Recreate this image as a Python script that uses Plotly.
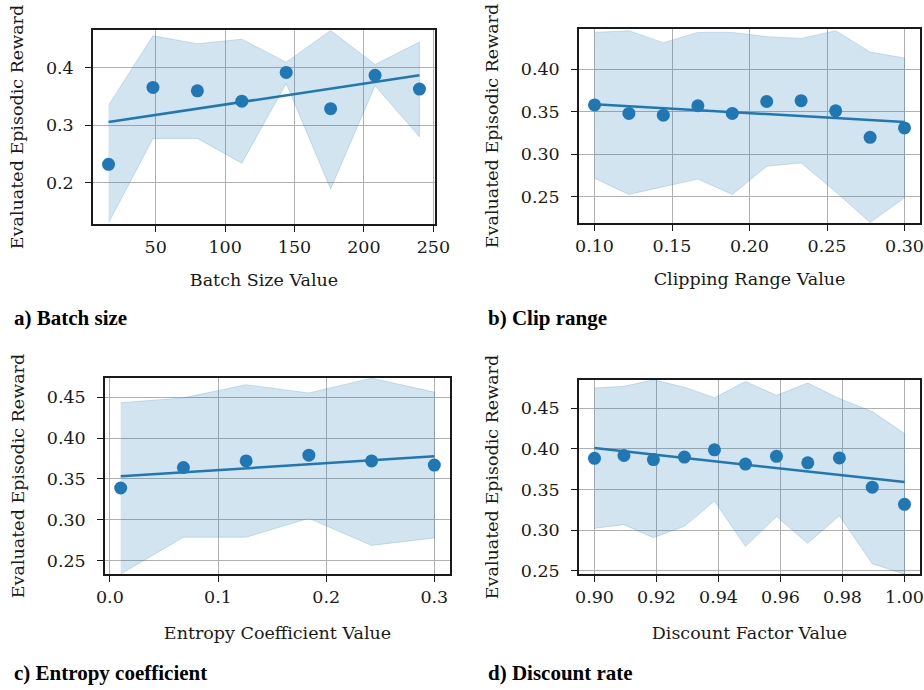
import numpy as np
import plotly.graph_objects as go

# ---------------- data ----------------
batch_x = [16, 48, 80, 112, 144, 176, 208, 240]
batch_mean = [0.232, 0.366, 0.360, 0.342, 0.392, 0.329, 0.387, 0.363]
batch_upper = [0.335, 0.456, 0.442, 0.450, 0.410, 0.465, 0.406, 0.445]
batch_lower = [0.130, 0.277, 0.277, 0.234, 0.373, 0.189, 0.369, 0.280]

clip_x = [0.1, 0.1222, 0.1444, 0.1667, 0.1889, 0.2111, 0.2333, 0.2556, 0.2778, 0.3]
clip_mean = [0.358, 0.348, 0.346, 0.357, 0.348, 0.362, 0.363, 0.351, 0.320, 0.331]
clip_upper = [0.443, 0.445, 0.431, 0.443, 0.443, 0.438, 0.436, 0.445, 0.420, 0.413]
clip_lower = [0.272, 0.253, 0.262, 0.271, 0.253, 0.286, 0.290, 0.256, 0.220, 0.249]

ent_x = [0.01, 0.068, 0.126, 0.184, 0.242, 0.3]
ent_mean = [0.339, 0.364, 0.372, 0.379, 0.372, 0.367]
ent_upper = [0.443, 0.449, 0.465, 0.455, 0.473, 0.456]
ent_lower = [0.234, 0.279, 0.279, 0.302, 0.269, 0.278]

disc_x = [0.900, 0.9095, 0.919, 0.929, 0.9387, 0.9487, 0.9587, 0.9688, 0.979, 0.9896, 1.000]
disc_mean = [0.3885, 0.392, 0.387, 0.390, 0.399, 0.3815, 0.391, 0.383, 0.389, 0.353, 0.332]
disc_upper = [0.475, 0.477, 0.485, 0.476, 0.463, 0.483, 0.466, 0.481, 0.462, 0.446, 0.419]
disc_lower = [0.3025, 0.307, 0.291, 0.305, 0.336, 0.280, 0.317, 0.284, 0.318, 0.259, 0.246]

x_titles = ["Batch Size Value", "Clipping Range Value",
            "Entropy Coefficient Value", "Discount Factor Value"]
y_title = "Evaluated Episodic Reward"
panel_labels = ["a) Batch size", "b) Clip range", "c) Entropy coefficient", "d) Discount rate"]

# ---------------- styling / layout ----------------
W, H = 924, 690
BLUE = "#1f77b4"
BAND = "rgba(31,119,180,0.2)"
GRID = "#b0b0b0"
SPINE = "#1a1a1a"
FONT = "DejaVu Serif"
TICKSIZE = 17.5

# plot-area boxes in pixels: (left, right, top, bottom)
boxes = [(93, 435, 30, 224), (579, 920, 29, 223),
         (105, 450, 378, 574), (579, 920, 380, 574)]
xranges = [[4.8, 251.2], [0.09, 0.31], [-0.0045, 0.3145], [0.895, 1.005]]
yranges = [[0.128, 0.466], [0.2195, 0.447], [0.2341, 0.4732], [0.2463, 0.4848]]
xticks = [dict(tick0=0, dtick=50, tickformat="d"),
          dict(tick0=0.1, dtick=0.05, tickformat=".2f"),
          dict(tick0=0, dtick=0.1, tickformat=".1f"),
          dict(tick0=0.9, dtick=0.02, tickformat=".2f")]
yticks = [dict(tick0=0.2, dtick=0.1, tickformat=".1f"),
          dict(tick0=0.25, dtick=0.05, tickformat=".2f"),
          dict(tick0=0.25, dtick=0.05, tickformat=".2f"),
          dict(tick0=0.25, dtick=0.05, tickformat=".2f")]
xtitle_standoff = [18, 18, 21, 21]
label_pos = [(12, 318), (486, 318), (12, 673), (486, 673)]

series = [(batch_x, batch_mean, batch_upper, batch_lower),
          (clip_x, clip_mean, clip_upper, clip_lower),
          (ent_x, ent_mean, ent_upper, ent_lower),
          (disc_x, disc_mean, disc_upper, disc_lower)]

fig = go.Figure()
layout = dict(width=W, height=H, margin=dict(l=0, r=0, t=0, b=0),
              paper_bgcolor="white", plot_bgcolor="white",
              showlegend=False, font=dict(family=FONT, size=TICKSIZE, color="#1a1a1a"))
annotations = []

for i, (xs, ys, up, lo) in enumerate(series):
    n = "" if i == 0 else str(i + 1)
    xa, ya = "x" + n, "y" + n
    # band
    fig.add_trace(go.Scatter(x=list(xs) + list(xs)[::-1], y=list(up) + list(lo)[::-1],
                             fill="toself", fillcolor=BAND,
                             line=dict(color=BAND, width=1), mode="lines",
                             hoverinfo="skip", xaxis=xa, yaxis=ya))
    # regression line
    k, b = np.polyfit(xs, ys, 1)
    xl = np.array([min(xs), max(xs)])
    fig.add_trace(go.Scatter(x=xl, y=k * xl + b, mode="lines",
                             line=dict(color=BLUE, width=2.5), xaxis=xa, yaxis=ya))
    # points
    fig.add_trace(go.Scatter(x=xs, y=ys, mode="markers",
                             marker=dict(color=BLUE, size=13, line=dict(width=0)),
                             xaxis=xa, yaxis=ya))
    l, r, t, bt = boxes[i]
    common = dict(showline=True, linecolor=SPINE, linewidth=1.5, mirror=True,
                  showgrid=True, gridcolor=GRID, gridwidth=1.2, zeroline=False,
                  ticks="outside", ticklen=6, tickwidth=1.3, tickcolor=SPINE,
                  tickfont=dict(family=FONT, size=TICKSIZE, color="#1a1a1a"),
                  tickmode="linear", automargin=False)
    layout["xaxis" + n] = dict(common, domain=[l / W, r / W], range=xranges[i],
                               anchor=ya, **xticks[i],
                               title=dict(text=x_titles[i], standoff=xtitle_standoff[i],
                                          font=dict(family=FONT, size=TICKSIZE)))
    layout["yaxis" + n] = dict(common, domain=[1 - bt / H, 1 - t / H], range=yranges[i],
                               anchor=xa, **yticks[i], ticklabelstandoff=8,
                               title=dict(text=y_title, standoff=18,
                                          font=dict(family=FONT, size=TICKSIZE)))
    lx, ly = label_pos[i]
    annotations.append(dict(text="<b>" + panel_labels[i] + "</b>", xref="paper", yref="paper",
                            x=lx / W, y=1 - ly / H, xanchor="left", yanchor="middle",
                            showarrow=False,
                            font=dict(family="Liberation Serif", size=21, color="black")))

layout["annotations"] = annotations
fig.update_layout(**layout)
fig.write_html("out.html", config={"displayModeBar": False},
               post_script="document.body.style.margin='0';")
